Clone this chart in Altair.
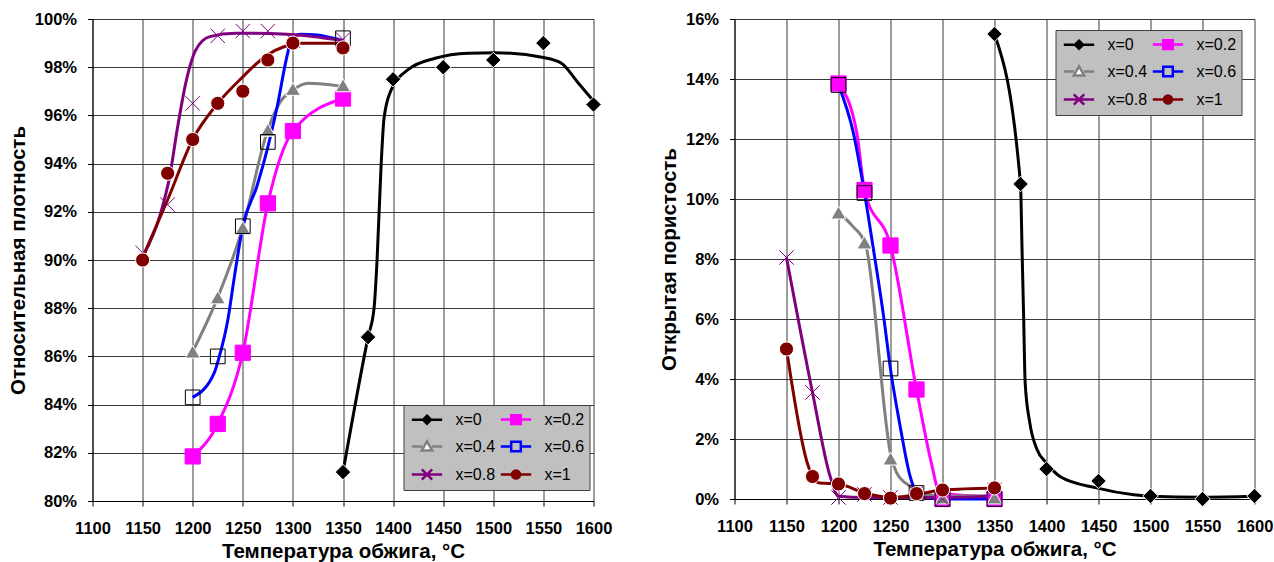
import altair as alt
import pandas as pd

SERIES = ["x=0", "x=0.2", "x=0.4", "x=0.6", "x=0.8", "x=1"]
SERIES_IDX = [0, 1, 2, 3, 4, 5]
LINE_COLORS = ["#000000", "#ff00ff", "#808080", "#0000ff", "#800080", "#800000"]
MARK_SHAPES = ["diamond", "square", "triangle-up", "square", "M-1,-1L1,1M-1,1L1,-1", "circle"]
MARK_FILLS = ["#000000", "#ff00ff", "#808080", "transparent", "transparent", "#800000"]
MARK_STROKES = ["#ffffff", "#ff00ff", "#ffffff", "#000000", "#800080", "#ffffff"]
MARK_SIZES = [240, 200, 180, 200, 190, 190]
MARK_SW = [1, 1, 1, 1.2, 1.8, 1]

X_TICKS = [1100, 1150, 1200, 1250, 1300, 1350, 1400, 1450, 1500, 1550, 1600]
Y_TICKS_DENS = [80, 82, 84, 86, 88, 90, 92, 94, 96, 98, 100]
Y_TICKS_POR = [0, 2, 4, 6, 8, 10, 12, 14, 16]

# ---------- Relative density (left) : measured points ----------
dens_T_0 = [1350, 1375, 1400, 1450, 1500, 1550, 1600]
dens_v_0 = [81.2, 86.8, 97.5, 98.0, 98.3, 99.0, 96.45]
dens_T_02 = [1200, 1225, 1250, 1275, 1300, 1350]
dens_v_02 = [81.85, 83.2, 86.15, 92.35, 95.35, 96.7]
dens_T_04 = [1200, 1225, 1250, 1275, 1300, 1350]
dens_v_04 = [86.2, 88.45, 91.35, 95.4, 97.1, 97.25]
dens_T_06 = [1200, 1225, 1250, 1275, 1350]
dens_v_06 = [84.3, 86.0, 91.4, 94.9, 99.2]
dens_T_08 = [1150, 1175, 1200, 1225, 1250, 1275, 1300, 1350]
dens_v_08 = [90.3, 92.3, 96.5, 99.3, 99.5, 99.5, 99.1, 99.15]
dens_T_1 = [1150, 1175, 1200, 1225, 1250, 1275, 1300, 1350]
dens_v_1 = [90.0, 93.6, 95.0, 96.5, 97.0, 98.3, 99.0, 98.8]

# ---------- Relative density (left) : smoothed curves ----------
dcur_T_0 = [1350, 1375, 1381, 1384, 1388, 1391, 1398, 1415, 1442, 1475, 1502, 1550, 1568, 1585, 1600]
dcur_v_0 = [81.2, 86.8, 88.0, 90.0, 93.9, 95.9, 97.05, 97.9, 98.37, 98.58, 98.6, 98.4, 98.16, 97.33, 96.6]
dcur_T_02 = [1200, 1225, 1250, 1275, 1300, 1350]
dcur_v_02 = [81.85, 83.2, 86.15, 92.35, 95.35, 96.7]
dcur_T_04 = [1200, 1225, 1250, 1275, 1288, 1300, 1315, 1350]
dcur_v_04 = [86.2, 88.45, 91.35, 95.4, 96.6, 97.05, 97.33, 97.2]
dcur_T_06 = [1200, 1221.6, 1226.6, 1235, 1241.6, 1250, 1264, 1275.3, 1284.3, 1294, 1299, 1308, 1324, 1341, 1350]
dcur_v_06 = [84.3, 85.33, 86.0, 87.5, 89.3, 91.4, 93.05, 94.74, 96.36, 98.44, 99.2, 99.37, 99.34, 99.2, 99.1]
dcur_T_08 = [1150, 1167, 1177, 1185, 1193, 1203, 1217, 1243, 1294, 1350]
dcur_v_08 = [90.14, 91.8, 93.46, 95.53, 97.33, 98.71, 99.27, 99.41, 99.37, 99.1]
dcur_T_1 = [1150, 1175, 1200, 1225, 1250, 1274, 1291, 1308, 1350]
dcur_v_1 = [90.1, 92.5, 95.0, 96.5, 97.6, 98.5, 98.85, 98.99, 98.99]

# ---------- Open porosity (right) : measured points ----------
por_T_0 = [1350, 1375, 1400, 1450, 1500, 1550, 1600]
por_v_0 = [15.5, 10.5, 1.0, 0.6, 0.1, 0.0, 0.1]
por_T_02 = [1200, 1225, 1250, 1275, 1300, 1350]
por_v_02 = [13.85, 10.3, 8.45, 3.65, 0.0, 0.0]
por_T_04 = [1200, 1225, 1250, 1275, 1300, 1350]
por_v_04 = [9.55, 8.55, 1.35, 0.2, 0.05, 0.05]
por_T_06 = [1200, 1225, 1250, 1275, 1300, 1350]
por_v_06 = [13.8, 10.2, 4.35, 0.2, 0.0, 0.0]
por_T_08 = [1150, 1175, 1200, 1225, 1250, 1275, 1300, 1350]
por_v_08 = [8.05, 3.55, 0.05, 0.15, 0.05, 0.2, 0.0, 0.3]
por_T_1 = [1150, 1175, 1200, 1225, 1250, 1275, 1300, 1350]
por_v_1 = [5.0, 0.75, 0.5, 0.18, 0.03, 0.18, 0.3, 0.37]

# ---------- Open porosity (right) : smoothed curves ----------
pcur_T_0 = [1350, 1375, 1376.5, 1378, 1379.5, 1384, 1391, 1400, 1413, 1448, 1484, 1500, 1550, 1600]
pcur_v_0 = [15.5, 10.5, 8.3, 6.1, 3.86, 2.53, 1.64, 1.2, 0.75, 0.37, 0.14, 0.09, 0.06, 0.09]
pcur_T_02 = [1200, 1217.7, 1225, 1250, 1275, 1290, 1296, 1310, 1350]
pcur_v_02 = [13.85, 12.19, 10.3, 8.45, 3.65, 1.09, 0.31, 0.15, 0.08]
pcur_T_04 = [1200, 1214, 1225, 1227.3, 1233.7, 1240, 1245, 1250, 1256, 1269, 1279, 1300, 1350]
pcur_v_04 = [9.55, 9.08, 8.56, 8.3, 6.64, 4.42, 2.75, 1.5, 0.87, 0.42, 0.2, 0.1, 0.1]
pcur_T_06 = [1200, 1214.4, 1225, 1233.7, 1243.4, 1250, 1259.3, 1268.9, 1278.5, 1300, 1350]
pcur_v_06 = [13.8, 12.19, 10.2, 8.3, 6.08, 4.33, 2.42, 0.75, 0.09, 0.0, 0.0]
pcur_T_08 = [1150, 1175, 1192, 1200, 1225, 1250, 1275, 1300, 1350]
pcur_v_08 = [8.05, 3.55, 0.75, 0.09, 0.05, 0.05, 0.05, 0.05, 0.1]
pcur_T_1 = [1150, 1170, 1175, 1182, 1200, 1225, 1250, 1275, 1300, 1350]
pcur_v_1 = [5.0, 1.2, 0.75, 0.53, 0.5, 0.2, 0.05, 0.15, 0.3, 0.37]


def to_long(pairs):
    rows = []
    for i, (name, (ts, vs)) in enumerate(zip(SERIES, pairs)):
        for t, v in zip(ts, vs):
            rows.append({"T": t, "v": v, "series": name, "idx": i})
    return pd.DataFrame(rows)


dens_pts = to_long([(dens_T_0, dens_v_0), (dens_T_02, dens_v_02), (dens_T_04, dens_v_04),
                    (dens_T_06, dens_v_06), (dens_T_08, dens_v_08), (dens_T_1, dens_v_1)])
dens_cur = to_long([(dcur_T_0, dcur_v_0), (dcur_T_02, dcur_v_02), (dcur_T_04, dcur_v_04),
                    (dcur_T_06, dcur_v_06), (dcur_T_08, dcur_v_08), (dcur_T_1, dcur_v_1)])
por_pts = to_long([(por_T_0, por_v_0), (por_T_02, por_v_02), (por_T_04, por_v_04),
                   (por_T_06, por_v_06), (por_T_08, por_v_08), (por_T_1, por_v_1)])
por_cur = to_long([(pcur_T_0, pcur_v_0), (pcur_T_02, pcur_v_02), (pcur_T_04, pcur_v_04),
                   (pcur_T_06, pcur_v_06), (pcur_T_08, pcur_v_08), (pcur_T_1, pcur_v_1)])

# legend symbols: line with marker, in unit coordinates
LEG_SHAPES = [
    "M-1.9,0H-0.5M0.5,0H1.9M0,-0.5L0.5,0L0,0.5L-0.5,0Z",
    "M-1.9,0H-0.6M0.6,0H1.9M-0.6,-0.55H0.6V0.55H-0.6Z",
    "M-1.9,0H-0.62M0.62,0H1.9M0,-0.65L0.65,0.5H-0.65Z",
    "M-1.9,0H-0.6M0.6,0H1.9M-0.6,-0.6H0.6V0.6H-0.6Z",
    "M-1.9,0H1.9M-0.65,-0.65L0.65,0.65M-0.65,0.65L0.65,-0.65",
    "M-1.9,0H-0.5M0.5,0H1.9M0.5,0A0.5,0.5 0 1,1 -0.5,0A0.5,0.5 0 1,1 0.5,0Z",
]
LEG_FILLS = ["#000000", "#ff00ff", "#ffffff", "#c0c0c0", "transparent", "#800000"]


def pick(values):
    expr = "'" + values[-1] + "'"
    for s, v in reversed(list(zip(SERIES[:-1], values[:-1]))):
        expr = "datum.value === '" + s + "' ? '" + v + "' : (" + expr + ")"
    return expr


FONT = "Liberation Sans"


def panel(pts, cur, ydom, yticks, ytitle, lx, ly, w, h):
    xenc = alt.X("T:Q", scale=alt.Scale(domain=[1100, 1600], nice=False, zero=False),
                 axis=alt.Axis(values=X_TICKS, title="Температура обжига, °С", format="d"))
    yenc = alt.Y("v:Q", scale=alt.Scale(domain=ydom, nice=False, zero=False),
                 axis=alt.Axis(values=yticks, title=ytitle, labelExpr="datum.value + '%'"))
    legend = alt.Legend(
        title=None, orient="none", legendX=lx, legendY=ly, columns=2, direction="horizontal",
        fillColor="#c0c0c0", strokeColor="#404040", padding=5,
        symbolSize=256, symbolOffset=9, labelOffset=19, rowPadding=7, columnPadding=0,
        labelFont=FONT, labelFontSize=16, labelColor="#000000",
        symbolStrokeWidth=2.5,
        symbolType=alt.ExprRef(expr=pick(LEG_SHAPES)),
        symbolFillColor=alt.ExprRef(expr=pick(LEG_FILLS)),
    )
    lines = alt.Chart(cur).mark_line(interpolate="monotone", strokeWidth=3).encode(
        x=xenc, y=yenc,
        color=alt.Color("series:N", scale=alt.Scale(domain=SERIES, range=LINE_COLORS), legend=legend),
        order=alt.Order("T:Q"),
        detail="series:N",
    )
    points = alt.Chart(pts).mark_point(filled=True, opacity=1).encode(
        x=xenc, y=yenc,
        shape=alt.Shape("idx:N", scale=alt.Scale(domain=SERIES_IDX, range=MARK_SHAPES), legend=None),
        fill=alt.Fill("idx:N", scale=alt.Scale(domain=SERIES_IDX, range=MARK_FILLS), legend=None),
        stroke=alt.Stroke("idx:N", scale=alt.Scale(domain=SERIES_IDX, range=MARK_STROKES), legend=None),
        size=alt.Size("idx:N", scale=alt.Scale(domain=SERIES_IDX, range=MARK_SIZES), legend=None),
        strokeWidth=alt.StrokeWidth("idx:N", scale=alt.Scale(domain=SERIES_IDX, range=MARK_SW), legend=None),
        order=alt.Order("idx:Q"),
    )
    return alt.layer(lines, points).properties(width=w, height=h)


left = panel(dens_pts, dens_cur, [80, 100], Y_TICKS_DENS, "Относительная плотность", 311, 386, 501, 482)
right = panel(por_pts, por_cur, [0, 16], Y_TICKS_POR, "Открытая пористость", 321, 11, 520, 480)

chart = alt.hconcat(left, right, spacing=47).resolve_scale(
    color="independent", shape="independent", fill="independent",
    stroke="independent", size="independent", strokeWidth="independent",
).resolve_legend(color="independent").properties(
    padding={"left": 7.5, "top": 11, "right": 0, "bottom": 0}
).configure_axis(
    labelFont=FONT, labelFontSize=16.5, labelFontWeight="bold", labelColor="#000000",
    titleFont=FONT, titleFontSize=20.5, titleFontWeight="bold", titleColor="#000000",
    tickSize=5, tickColor="#000000", domainColor="#000000", domainWidth=1,
    gridColor="#3a3a3a", gridWidth=1, gridOpacity=1, labelPadding=11,
    titlePadding=5.8, labelFlush=False,
).configure_axisX(labelPadding=14.5, titlePadding=4).configure_view(stroke=None)

chart.save("out.html", embed_options={"renderer": "svg", "actions": False})
